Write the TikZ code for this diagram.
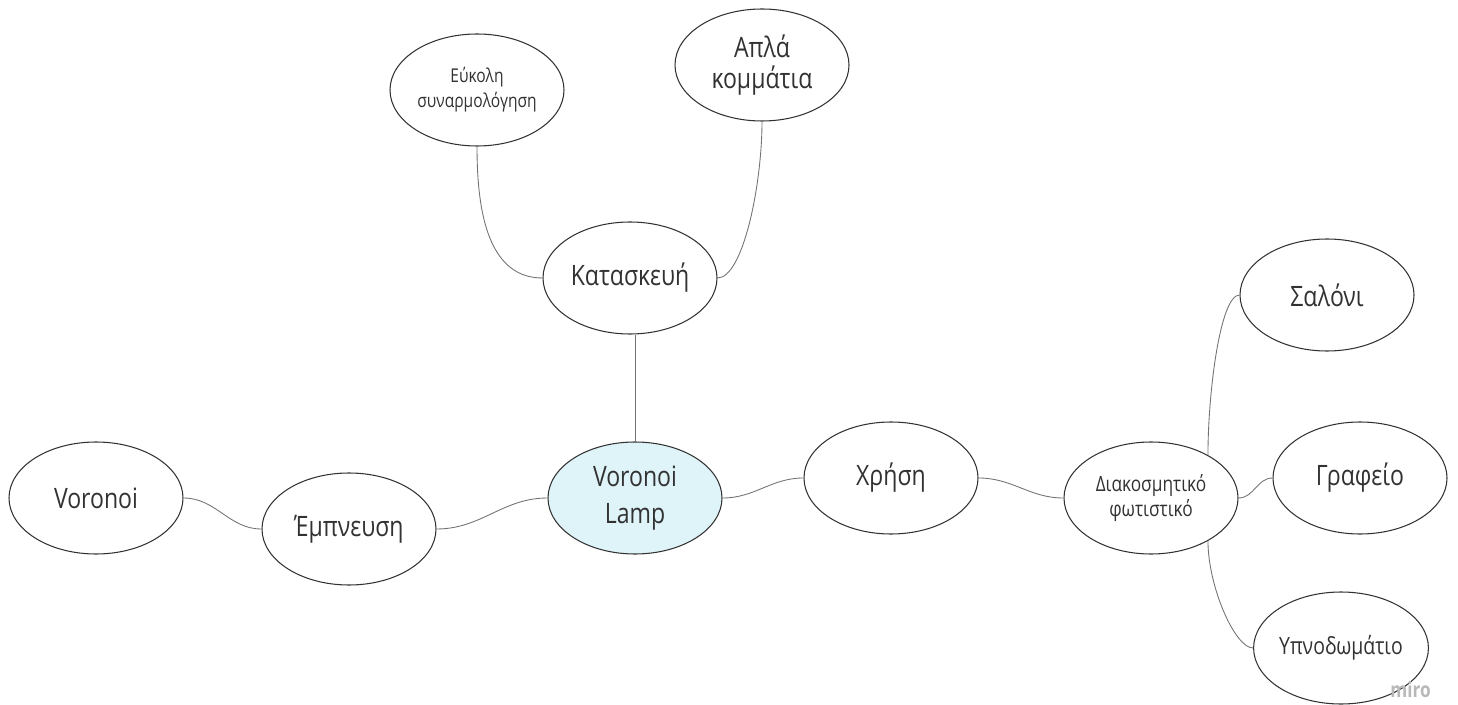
\documentclass[tikz,border=0pt]{standalone}
\usepackage{fontspec}
\setmainfont{Open Sans}[FakeStretch=0.82]
\usetikzlibrary{shapes.geometric}
\definecolor{lampblue}{RGB}{223,244,249}
\definecolor{edgegrey}{RGB}{115,115,115}
\definecolor{rimgrey}{RGB}{50,50,50}

\begin{document}
\begin{tikzpicture}[bubble/.style={draw=rimgrey,ellipse,line width=0.6pt,minimum width=3.48cm,minimum height=2.24cm,inner sep=0pt,align=center,text=rimgrey,font=\fontsize{16}{21.5}\selectfont},
  smalltext/.style={font=\fontsize{10.8}{14.2}\selectfont},
  link/.style={draw=edgegrey,line width=0.5pt}]
    \useasboundingbox (0,0) rectangle (29.16,14.08);
    % centre and first ring
    \node[bubble,fill=lampblue] (lamp) at (12.70,4.12) {Voronoi\\Lamp};
    \node[bubble] (empneusi) at (6.98,3.50) {Έμπνευση};
    \node[bubble] (voronoi) at (1.92,4.12) {Voronoi};
    \node[bubble] (kataskevi) at (12.60,8.52) {Κατασκευή};
    \node[bubble] (xrisi) at (17.82,4.52) {Χρήση};
    % construction
    \node[bubble,smalltext] (eukoli) at (9.54,12.28) {Εύκολη\\συναρμολόγηση};
    \node[bubble,font=\fontsize{16}{17.5}\selectfont] (apla) at (15.24,12.78) {Απλά\\κομμάτια};
    % use
    \node[bubble,font=\fontsize{12}{14.7}\selectfont] (diakosm) at (23.02,4.12) {Διακοσμητικό\\φωτιστικό};
    \node[bubble] (saloni) at (26.54,8.18) {Σαλόνι};
    \node[bubble] (grafeio) at (27.20,4.52) {Γραφείο};
    \node[bubble,font=\fontsize{13.5}{16}\selectfont] (ypnod) at (26.82,1.12) {Υπνοδωμάτιο};
    \node[anchor=south west,inner sep=0pt,text=black!28,font=\bfseries\fontsize{12}{12}\selectfont] (miro) at (27.80,0.12) {miro};

    \draw[link] (voronoi.east) to[out=0,in=180] (empneusi.west);
    \draw[link] (empneusi.east) to[out=0,in=180] (lamp.west);
    \draw[link] (lamp.east) to[out=0,in=180] (xrisi.west);
    \draw[link] (xrisi.east) to[out=0,in=180] (diakosm.west);
    \draw[link] (lamp.north) -- (lamp.north |- kataskevi.south);
    \draw[link] (kataskevi.west) to[out=180,in=-90] (eukoli.south);
    \draw[link] (kataskevi.east) to[out=0,in=-90,out looseness=0.4] (apla.south);
    \draw[link] (diakosm.37) to[out=90,in=180,in looseness=0.3] (saloni.west);
    \draw[link] (diakosm.east) to[out=0,in=180] (grafeio.west);
    \draw[link] (diakosm.-37) to[out=-90,in=180,in looseness=0.4] (ypnod.west);
  \end{tikzpicture}
\end{document}
